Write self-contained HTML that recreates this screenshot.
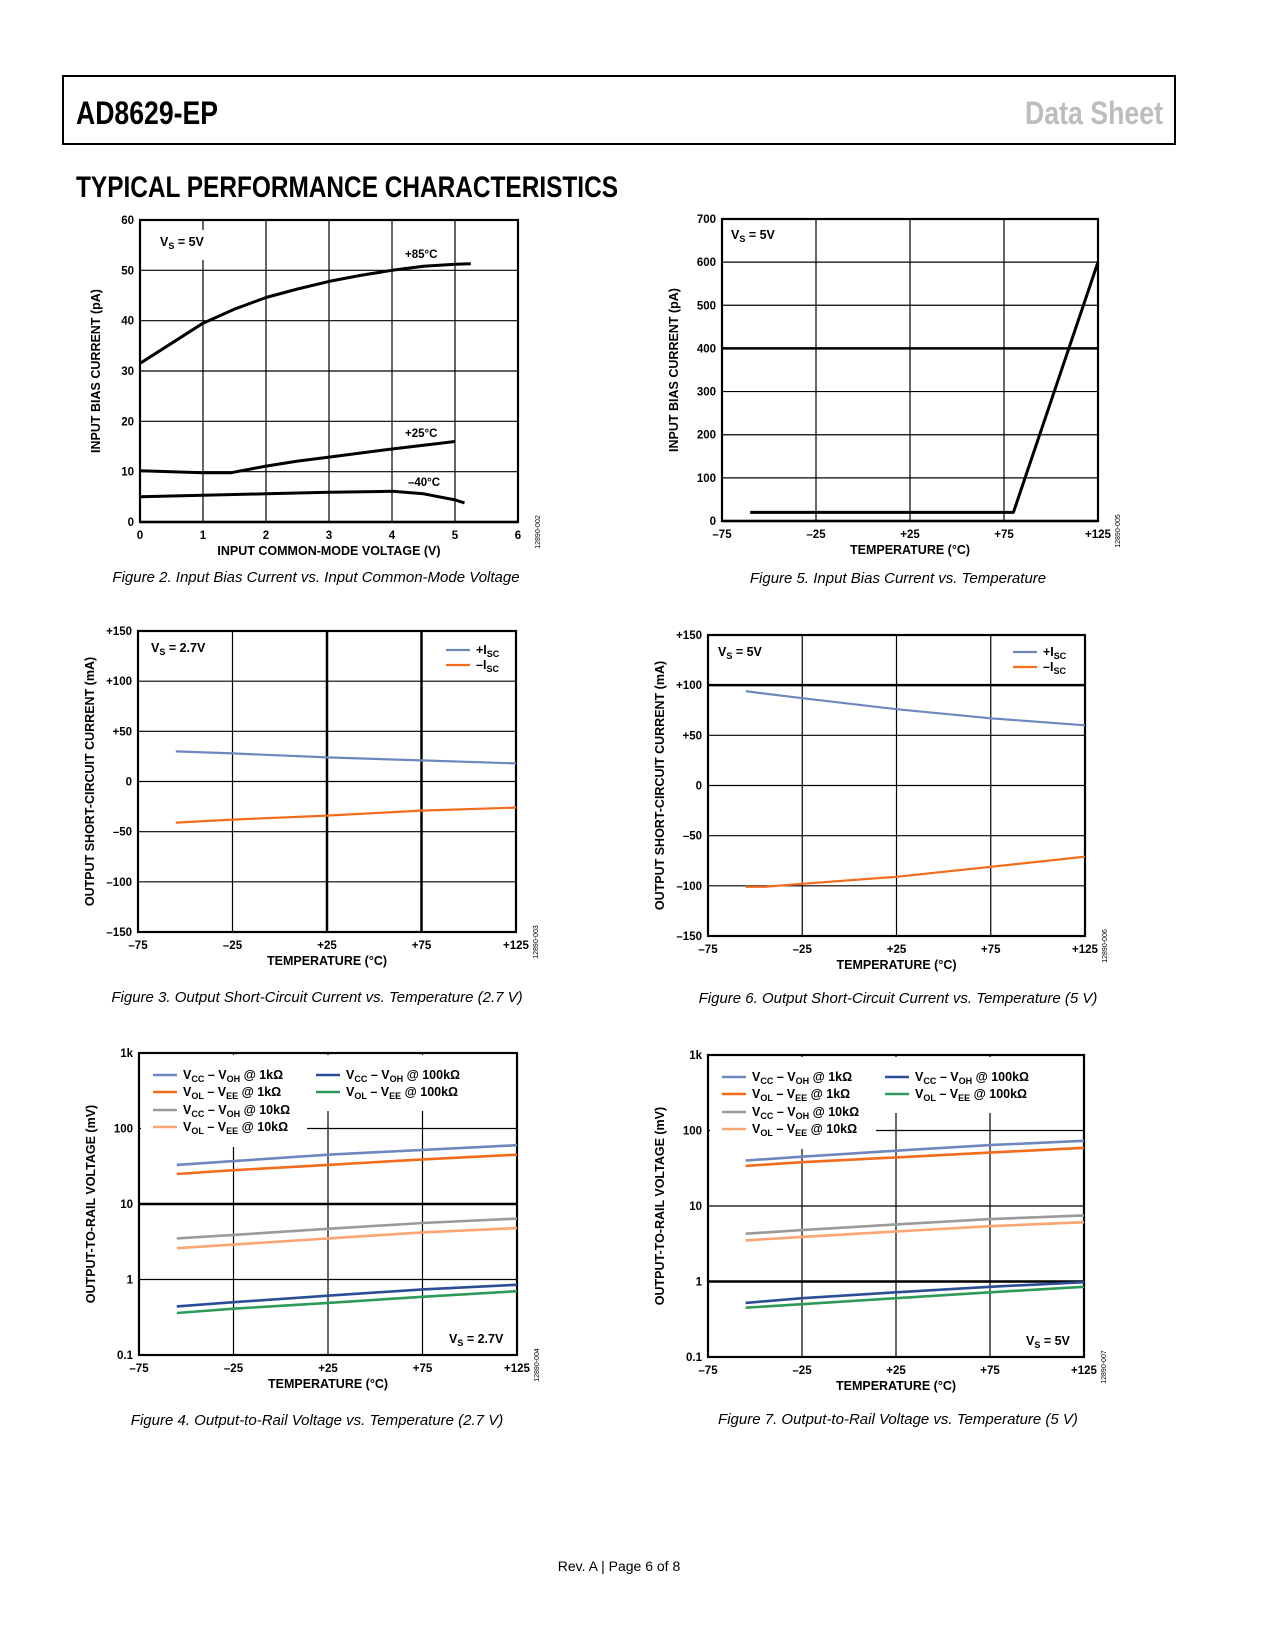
<!DOCTYPE html>
<html><head><meta charset="utf-8">
<style>
body{margin:0;background:#fff;}
svg{display:block;font-family:"Liberation Sans",sans-serif;}
.nar{font-family:"Liberation Sans Narrow","Liberation Sans",sans-serif;}
</style></head>
<body>
<svg id="page" width="1275" height="1650" viewBox="0 0 1275 1650" xmlns="http://www.w3.org/2000/svg">
<rect x="0" y="0" width="1275" height="1650" fill="#fff"/>
<rect x="63" y="76" width="1112" height="68" fill="none" stroke="#000" stroke-width="2"/>
<text class="nar" x="76" y="124" font-size="32" font-weight="bold" textLength="142" lengthAdjust="spacingAndGlyphs">AD8629-EP</text>
<text class="nar" x="1163" y="124" text-anchor="end" font-size="32" font-weight="bold" fill="#bdbdbd" textLength="138" lengthAdjust="spacingAndGlyphs">Data Sheet</text>
<text class="nar" x="76" y="197" font-size="30" font-weight="bold" textLength="542" lengthAdjust="spacingAndGlyphs">TYPICAL PERFORMANCE CHARACTERISTICS</text>
<g id="charts"></g>
<text x="316" y="582" text-anchor="middle" font-size="15" font-style="italic">Figure 2. Input Bias Current vs. Input Common-Mode Voltage</text>
<text x="898" y="583" text-anchor="middle" font-size="15" font-style="italic">Figure 5. Input Bias Current vs. Temperature</text>
<text x="317" y="1002" text-anchor="middle" font-size="15" font-style="italic">Figure 3. Output Short-Circuit Current vs. Temperature (2.7 V)</text>
<text x="898" y="1003" text-anchor="middle" font-size="15" font-style="italic">Figure 6. Output Short-Circuit Current vs. Temperature (5 V)</text>
<text x="317" y="1425" text-anchor="middle" font-size="15" font-style="italic">Figure 4. Output-to-Rail Voltage vs. Temperature (2.7 V)</text>
<text x="898" y="1424" text-anchor="middle" font-size="15" font-style="italic">Figure 7. Output-to-Rail Voltage vs. Temperature (5 V)</text>
<text x="619" y="1571" text-anchor="middle" font-size="14">Rev. A | Page 6 of 8</text>
</svg>
<script>
// ---- Figure 2 data ----
const f2x85 = [0,0.5,1,1.5,2,2.5,3,3.5,4,4.5,5,5.25];
const f2y85 = [31.5,35.5,39.5,42.3,44.6,46.3,47.8,49,50,50.8,51.2,51.3];
const f2x25 = [0,0.5,1,1.45,2,2.5,3,4,5];
const f2y25 = [10.2,10,9.8,9.8,11.1,12.1,12.9,14.5,16];
const f2xm40 = [0,1,2,3,4,4.5,5,5.15];
const f2ym40 = [5,5.3,5.6,5.9,6.1,5.6,4.4,3.8];
const f2xTicks = [0,1,2,3,4,5,6];
const f2yTicks = [0,10,20,30,40,50,60];
// ---- Figure 5 data ----
const f5x = [-60,80,125];
const f5y = [20,20,600];
const f5xTicks = [-75,-25,25,75,125];
const f5yTicks = [0,100,200,300,400,500,600,700];
// ---- Figure 3 data ----
const tempX = [-55,-25,25,75,125];
const f3pos = [30,28,24,21,18];
const f3neg = [-41,-38,-34,-29,-26];
const iscTicks = [-150,-100,-50,0,50,100,150];
const tempTicks = [-75,-25,25,75,125];
// ---- Figure 6 data ----
const f6pos = [94,87,76,67,60];
const f6negX = [-55,-45,-25,25,75,125];
const f6neg = [-101,-101,-98,-91,-81,-71];
// ---- Figure 4 data ----
const f4voh1k = [33,37,45,52,60];
const f4vol1k = [25,28,33,39,45];
const f4voh10k = [3.5,3.9,4.7,5.6,6.4];
const f4vol10k = [2.6,2.9,3.5,4.2,4.8];
const f4voh100k = [0.44,0.5,0.61,0.74,0.85];
const f4vol100k = [0.36,0.41,0.49,0.59,0.70];
// ---- Figure 7 data ----
const f7voh1k = [40,45,54,64,73];
const f7vol1k = [34,38,44,51,59];
const f7voh10k = [4.3,4.8,5.7,6.7,7.5];
const f7vol10k = [3.5,3.9,4.6,5.4,6.1];
const f7voh100k = [0.52,0.6,0.72,0.85,0.98];
const f7vol100k = [0.45,0.5,0.6,0.72,0.85];
const logTicks = [0.1,1,10,100,1000];
const logLabels = ['0.1','1','10','100','1k'];

const NS='http://www.w3.org/2000/svg';
const root=document.getElementById('charts');
function mk(tag,attrs,parent){const e=document.createElementNS(NS,tag);for(const k in attrs)e.setAttribute(k,attrs[k]);(parent||root).appendChild(e);return e;}
function fmtT(v){return v>0?'+'+v:(v<0?'\u2013'+(-v):'0');}

function chart(c){
  const g=mk('g',{});
  
  
  const sx=v=>c.x0+(v-c.xmin)/(c.xmax-c.xmin)*(c.x1-c.x0);
  const sy=c.log?(v=>c.y1-(Math.log10(v)-Math.log10(c.ymin))/(Math.log10(c.ymax)-Math.log10(c.ymin))*(c.y1-c.y0))
               :(v=>c.y1-(v-c.ymin)/(c.ymax-c.ymin)*(c.y1-c.y0));
  c.yTicks.forEach((v,i)=>{
    const y=sy(v);
    const ln=mk('line',{x1:c.x0,x2:c.x1,y1:y,y2:y,stroke:'#000','stroke-width':(c.thickY&&c.thickY.includes(v))?2.5:1.2},g);
    
    
    const t=mk('text',{x:c.x0-6,y:y+4,'text-anchor':'end','font-size':11.5,'font-weight':'bold'},g);
    
    
    t.textContent=c.yLabels?c.yLabels[i]:c.yFmt(v);
  });
  c.xTicks.forEach(v=>{
    const x=sx(v);
    const ln=mk('line',{x1:x,x2:x,y1:c.y0,y2:c.y1,stroke:'#000','stroke-width':(c.thickX&&c.thickX.includes(v))?2.5:1.2},g);
    
    
    const t=mk('text',{x:x,y:c.y1+17,'text-anchor':'middle','font-size':11.5,'font-weight':'bold'},g);
    
    
    t.textContent=c.xFmt(v);
  });
  if(c.masks)c.masks.forEach(m=>mk('rect',{x:m[0],y:m[1],width:m[2],height:m[3],fill:'#fff'},g));
  const fr=mk('rect',{x:c.x0,y:c.y0,width:c.x1-c.x0,height:c.y1-c.y0,fill:'none',stroke:'#000','stroke-width':2.2},g);
  
  
  c.series.forEach(s=>{
    const d=s.x.map((xv,i)=>(i?'L':'M')+sx(xv).toFixed(1)+' '+sy(s.y[i]).toFixed(1)).join(' ');
    const p=mk('path',{d:d,fill:'none',stroke:s.color,'stroke-width':s.w,'stroke-linejoin':'round'},g);
    
    
  });
  const xt=mk('text',{x:(c.x0+c.x1)/2,y:c.y1+33,'text-anchor':'middle','font-size':12.5,'font-weight':'bold'},g);
  
  
  xt.textContent=c.xTitle;
  const yx=c.x0-c.yTitleOff, yy=(c.y0+c.y1)/2;
  const yt=mk('text',{x:yx,y:yy,'text-anchor':'middle','font-size':12.5,'font-weight':'bold',transform:`rotate(-90 ${yx} ${yy})`},g);
  
  
  yt.textContent=c.yTitle;
  const idx=c.x1+22, idy=c.y1+10;
  const id=mk('text',{x:idx,y:idy,'text-anchor':'middle','font-size':7,transform:`rotate(-90 ${idx} ${idy})`},g);
  
  
  id.textContent=c.figId;
  return {g,sx,sy};
}
function vs(g,x,y,txt,name){
  const t=mk('text',{x:x,y:y,'font-size':12.5,'font-weight':'bold'},g);
  
  
  t.innerHTML='V<tspan font-size="9" dy="3">S</tspan><tspan dy="-3"> = '+txt+'</tspan>';
}
function legItem(g,x,y,color,html,w){
  const l=mk('line',{x1:x,x2:x+24,y1:y,y2:y,stroke:color,'stroke-width':w},g);
  
  
  const t=mk('text',{x:x+30,y:y+4,'font-size':12.5,'font-weight':'bold'},g);
  
  
  t.innerHTML=html;
}
function lbl(g,x,y,txt,name){
  const t=mk('text',{x:x,y:y,'font-size':11.5,'font-weight':'bold'},g);
  
  
  t.textContent=txt;
}
const sub=s=>'<tspan font-size="9" dy="3">'+s+'</tspan><tspan dy="-3">';
const C1='#6f87bf',C2='#f26c1c',C3='#9a9a9a',C4='#f9a672',C5='#2b4d97',C6='#2e9a5a';

// Figure 2
let c=chart({name:'chart-fig2',x0:140,x1:518,y0:220,y1:522,xmin:0,xmax:6,ymin:0,ymax:60,xTicks:f2xTicks,yTicks:f2yTicks,
  xFmt:v=>''+v,yFmt:v=>''+v,thickY:[0],xTitle:'INPUT COMMON-MODE VOLTAGE (V)',yTitle:'INPUT BIAS CURRENT (pA)',yTitleOff:40,figId:'12890-002',
  masks:[[148,230,70,30]],
  series:[{name:'line-85c',x:f2x85,y:f2y85,color:'#000',w:3},{name:'line-25c',x:f2x25,y:f2y25,color:'#000',w:3},{name:'line-minus40c',x:f2xm40,y:f2ym40,color:'#000',w:3}]});
vs(c.g,160,246,'5V','vs-label');
lbl(c.g,405,258,'+85°C','label-85c');lbl(c.g,405,437,'+25°C','label-25c');lbl(c.g,408,486,'\u201340°C','label-minus40c');

// Figure 5
c=chart({name:'chart-fig5',x0:722,x1:1098,y0:219,y1:521,xmin:-75,xmax:125,ymin:0,ymax:700,xTicks:f5xTicks,yTicks:f5yTicks,
  xFmt:fmtT,yFmt:v=>''+v,thickY:[0,400],xTitle:'TEMPERATURE (°C)',yTitle:'INPUT BIAS CURRENT (pA)',yTitleOff:44,figId:'12890-005',
  masks:[[728,225,62,25]],
  series:[{name:'bias-current-line',x:f5x,y:f5y,color:'#000',w:3}]});
vs(c.g,731,239,'5V','vs-label');

// Figure 3
c=chart({name:'chart-fig3',x0:138,x1:516,y0:631,y1:932,xmin:-75,xmax:125,ymin:-150,ymax:150,xTicks:tempTicks,yTicks:iscTicks,
  xFmt:fmtT,yFmt:fmtT,thickX:[25,75],xTitle:'TEMPERATURE (°C)',yTitle:'OUTPUT SHORT-CIRCUIT CURRENT (mA)',yTitleOff:44,figId:'12890-003',
  masks:[[144,638,70,22]],
  series:[{name:'plus-isc-line',x:tempX,y:f3pos,color:C1,w:2.2},{name:'minus-isc-line',x:tempX,y:f3neg,color:C2,w:2.2}]});
vs(c.g,151,652,'2.7V','vs-label');
legItem(c.g,446,650,C1,'+I'+sub('SC')+'</tspan>',2.2);
legItem(c.g,446,665,C2,'\u2013I'+sub('SC')+'</tspan>',2.2);

// Figure 6
c=chart({name:'chart-fig6',x0:708,x1:1085,y0:635,y1:936,xmin:-75,xmax:125,ymin:-150,ymax:150,xTicks:tempTicks,yTicks:iscTicks,
  xFmt:fmtT,yFmt:fmtT,thickY:[100],xTitle:'TEMPERATURE (°C)',yTitle:'OUTPUT SHORT-CIRCUIT CURRENT (mA)',yTitleOff:44,figId:'12890-006',
  series:[{name:'plus-isc-line',x:tempX,y:f6pos,color:C1,w:2.2},{name:'minus-isc-line',x:f6negX,y:f6neg,color:C2,w:2.2}]});
vs(c.g,718,656,'5V','vs-label');
legItem(c.g,1013,652,C1,'+I'+sub('SC')+'</tspan>',2.2);
legItem(c.g,1013,667,C2,'\u2013I'+sub('SC')+'</tspan>',2.2);

function railChart(name,x0,x1,y0,y1,thick,d,figId,vsTxt){
  const cc=chart({name:name,x0:x0,x1:x1,y0:y0,y1:y1,xmin:-75,xmax:125,ymin:0.1,ymax:1000,log:true,xTicks:tempTicks,yTicks:logTicks,yLabels:logLabels,
    xFmt:fmtT,thickY:thick,xTitle:'TEMPERATURE (°C)',yTitle:'OUTPUT-TO-RAIL VOLTAGE (mV)',yTitleOff:44,figId:figId,
    masks:[[x0+2,y0+2,166,92],[x0+166,y0+2,166,56],[x0+290,y1-32,84,28]],
    series:[{name:'vcc-voh-1k',x:tempX,y:d[0],color:C1,w:2.6},{name:'vol-vee-1k',x:tempX,y:d[1],color:C2,w:2.6},
      {name:'vcc-voh-10k',x:tempX,y:d[2],color:C3,w:2.6},{name:'vol-vee-10k',x:tempX,y:d[3],color:C4,w:2.6},
      {name:'vcc-voh-100k',x:tempX,y:d[4],color:C5,w:2.6},{name:'vol-vee-100k',x:tempX,y:d[5],color:C6,w:2.6}]});
  const L=x0+14, R=x0+177, ty=y0+22;
  legItem(cc.g,L,ty,C1,'V'+sub('CC')+' \u2013 V</tspan>'+sub('OH')+' @ 1kΩ</tspan>',2.6);
  legItem(cc.g,L,ty+17,C2,'V'+sub('OL')+' \u2013 V</tspan>'+sub('EE')+' @ 1kΩ</tspan>',2.6);
  legItem(cc.g,L,ty+35,C3,'V'+sub('CC')+' \u2013 V</tspan>'+sub('OH')+' @ 10kΩ</tspan>',2.6);
  legItem(cc.g,L,ty+52,C4,'V'+sub('OL')+' \u2013 V</tspan>'+sub('EE')+' @ 10kΩ</tspan>',2.6);
  legItem(cc.g,R,ty,C5,'V'+sub('CC')+' \u2013 V</tspan>'+sub('OH')+' @ 100kΩ</tspan>',2.6);
  legItem(cc.g,R,ty+17,C6,'V'+sub('OL')+' \u2013 V</tspan>'+sub('EE')+' @ 100kΩ</tspan>',2.6);
  vs(cc.g,x1-(vsTxt.length>2?68:58),y1-12,vsTxt,'vs-label');
}
railChart('chart-fig4',139,517,1053,1355,[10],[f4voh1k,f4vol1k,f4voh10k,f4vol10k,f4voh100k,f4vol100k],'12890-004','2.7V');
railChart('chart-fig7',708,1084,1055,1357,[1],[f7voh1k,f7vol1k,f7voh10k,f7vol10k,f7voh100k,f7vol100k],'12890-007','5V');
</script>
</body></html>
